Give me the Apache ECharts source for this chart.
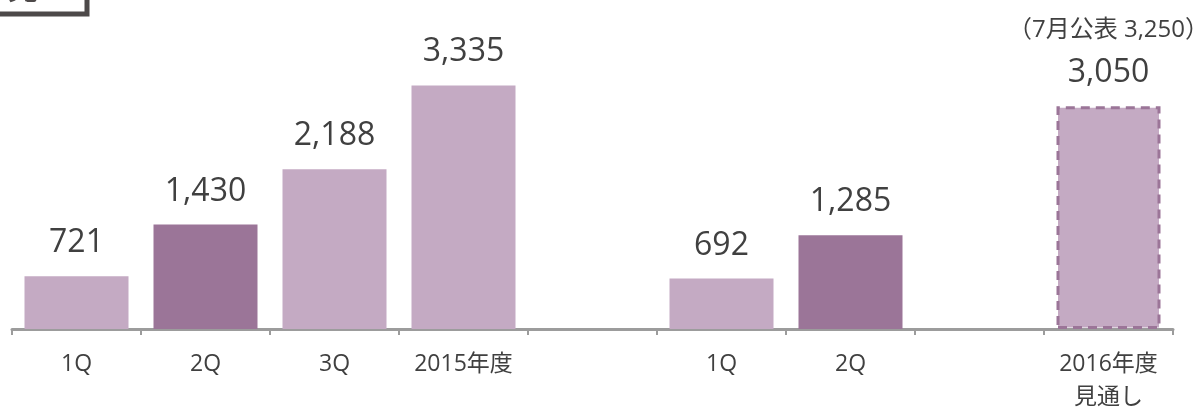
<!DOCTYPE html>
<html>
<head>
<meta charset="utf-8">
<script src="https://cdn.jsdelivr.net/npm/echarts@6/dist/echarts.min.js"></script>
<style>
  html, body { margin: 0; padding: 0; background: #fff; }
  #chart { width: 1197px; height: 409px; }
</style>
</head>
<body>
<div id="chart"></div>
<script>
// 四半期累計と通期見通し
const categories = ['1Q', '2Q', '3Q', '2015年度', '', '1Q', '2Q', '', '2016年度\n見通し'];
const values = [721, 1430, 2188, 3335, null, 692, 1285, null, 3050];
const forecastNote = '（7月公表 3,250）';

const light = '#C4AAC3';
const dark = '#9B7598';
const textColor = '#404040';
const font = '"Open Sans", "Noto Sans CJK JP", sans-serif';

let chart = echarts.init(document.getElementById('chart'));

let barData = values.map(function (v, i) {
  let name = categories[i];
  if (v === null) return null;
  let item = {
    value: v,
    itemStyle: { color: name === '2Q' ? dark : light }
  };
  if (name.indexOf('見通し') >= 0) {
    // 見通しは破線枠
    item.itemStyle.borderColor = dark;
    item.itemStyle.borderWidth = 3;
    item.itemStyle.borderType = [9, 6];
    item.label = {
      formatter: function (p) {
        return '{a|' + forecastNote + '}\n{b|' + p.value.toLocaleString('en-US') + '}';
      }
    };
  }
  return item;
});

let option = {
  animation: false,
  grid: { left: 12, right: 24, top: 20, bottom: 80, outerBoundsMode: 'none' },
  xAxis: {
    type: 'category',
    data: categories,
    axisLine: { lineStyle: { color: '#9C9C9C', width: 3 } },
    axisTick: { show: true, length: 6, lineStyle: { color: '#9C9C9C', width: 2 } },
    axisLabel: {
      interval: 0,
      margin: 19,
      color: textColor,
      fontSize: 23,
      lineHeight: 33,
      fontFamily: font
    }
  },
  yAxis: {
    type: 'value',
    min: 0,
    max: 4230,
    show: false,
    splitLine: { show: false }
  },
  series: [
    {
      type: 'bar',
      data: barData,
      barWidth: 104,
      label: {
        show: true,
        position: 'top',
        distance: 17,
        color: textColor,
        fontSize: 32,
        fontFamily: font,
        formatter: function (p) {
          return p.value.toLocaleString('en-US');
        },
        rich: {
          a: { fontSize: 24, lineHeight: 54, color: textColor, fontFamily: font },
          b: { fontSize: 32, lineHeight: 32, color: textColor, fontFamily: font }
        }
      }
    }
  ],
  graphic: [
    {
      type: 'rect',
      shape: { x: -10, y: -40, width: 97, height: 54 },
      style: { fill: '#fff', stroke: '#4D4949', lineWidth: 5 }
    },
    {
      type: 'text',
      left: 8,
      top: -25,
      style: { text: '見', fontSize: 30, fill: '#4D4949', fontFamily: font }
    }
  ]
};

chart.setOption(option);
</script>
</body>
</html>
